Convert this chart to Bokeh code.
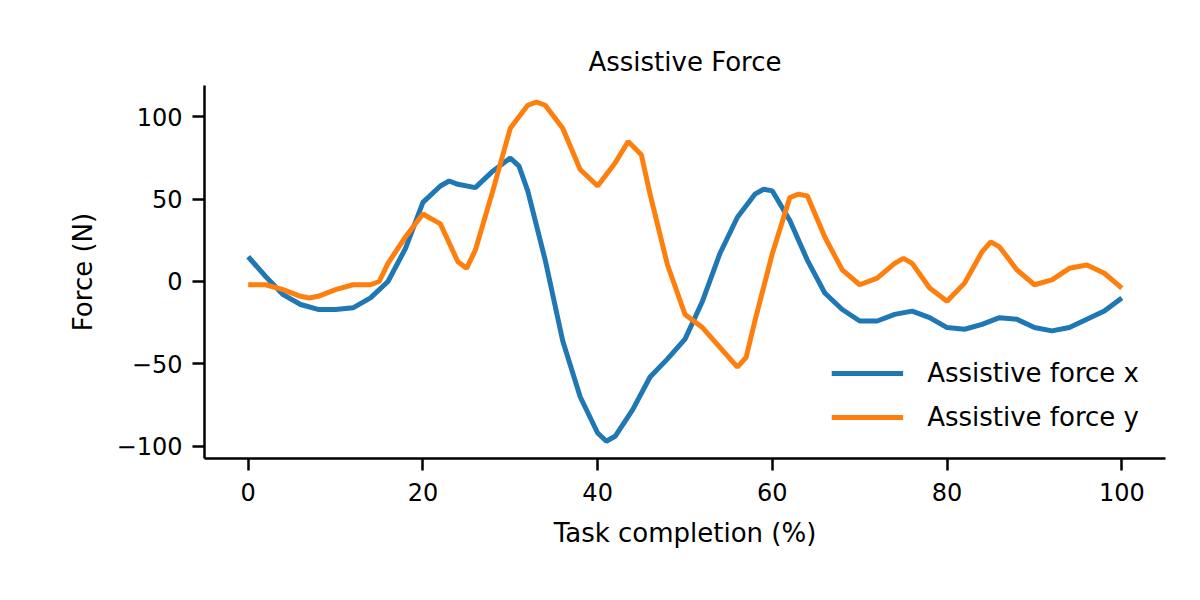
from bokeh.plotting import figure
from bokeh.models import FixedTicker, Legend, LegendItem
from bokeh.embed import file_html
from bokeh.resources import INLINE

x_blue = [0,2,4,6,8,10,12,14,16,18,20,22,23,24,26,28,30,31,32,34,36,38,40,41,42,44,46,48,50,52,54,56,58,59,60,62,64,66,68,70,72,74,76,78,80,82,84,86,88,90,92,94,96,98,100]
force_x = [15,3,-8,-14,-17,-17,-16,-10,0,20,48,58,61,59,57,67,75,70,55,13,-36,-70,-92,-97,-94,-78,-58,-47,-35,-12,17,39,53,56,55,37,13,-7,-17,-24,-24,-20,-18,-22,-28,-29,-26,-22,-23,-28,-30,-28,-23,-18,-10]

x_orange = [0,2,4,6,7,8,10,12,14,15,16,18,20,22,24,25,26,28,30,32,33,34,36,38,40,42,43.5,45,46,48,50,52,54,56,57,58,60,62,63,64,66,68,70,72,74,75,76,78,80,82,84,85,86,88,90,92,94,96,98,100]
force_y = [-2,-2,-5,-9,-10,-9,-5,-2,-2,0,11,27,41,35,12,8,19,55,93,107,109,107,93,68,58,72,85,77,53,10,-20,-28,-40,-52,-46,-24,17,51,53,52,27,7,-2,2,11,14,11,-4,-12,-1,18,24,21,7,-2,1,8,10,5,-4]

y_ticks = [-100, -50, 0, 50, 100]
x_ticks = [0, 20, 40, 60, 80, 100]

FONT = "DejaVu Sans"

p = figure(width=1184, height=584, output_backend="svg", toolbar_location=None,
           x_range=(-5, 105), y_range=(-107.5, 119),
           min_border_left=204, min_border_right=19, min_border_top=85, min_border_bottom=126,
           title="Assistive Force")
p.title.text_font = FONT
p.title.text_font_size = "26px"
p.title.text_font_style = "normal"
p.title.text_color = "black"
p.title.align = "center"
p.title.standoff = 18

p.outline_line_color = None
p.grid.visible = False
p.background_fill_color = "white"

for ax in (p.xaxis[0], p.yaxis[0]):
    ax.axis_line_width = 2.5
    ax.axis_line_color = "black"
    ax.major_tick_line_width = 2.5
    ax.major_tick_line_color = "black"
    ax.major_tick_out = 12
    ax.major_tick_in = 0
    ax.minor_tick_line_color = None
    ax.major_label_text_font = FONT
    ax.major_label_text_font_size = "24px"
    ax.major_label_text_color = "black"
    ax.axis_label_text_font = FONT
    ax.axis_label_text_font_size = "26px"
    ax.axis_label_text_font_style = "normal"
    ax.axis_label_text_color = "black"

p.xaxis.ticker = FixedTicker(ticks=x_ticks)
p.yaxis.ticker = FixedTicker(ticks=y_ticks)
p.yaxis.major_label_overrides = {-100: "\u2212100", -50: "\u221250"}
p.xaxis.axis_label = "Task completion (%)"
p.yaxis.axis_label = "Force (N)"
p.xaxis.major_label_standoff = 12
p.yaxis.major_label_standoff = 10
p.xaxis.axis_label_standoff = 14
p.yaxis.axis_label_standoff = 16

r1 = p.line(x_blue, force_x, line_color="#1f77b4", line_width=5)
r2 = p.line(x_orange, force_y, line_color="#ff7f0e", line_width=5)

legend = Legend(items=[LegendItem(label="Assistive force x", renderers=[r1]),
                       LegendItem(label="Assistive force y", renderers=[r2])],
                location="bottom_right", border_line_color=None,
                background_fill_alpha=0, label_text_font=FONT,
                label_text_color="black",
                label_text_font_size="26px", glyph_width=72, glyph_height=30,
                label_standoff=24, spacing=14, margin=26, padding=4)
p.add_layout(legend)

open("out.html", "w").write(file_html(p, INLINE))
